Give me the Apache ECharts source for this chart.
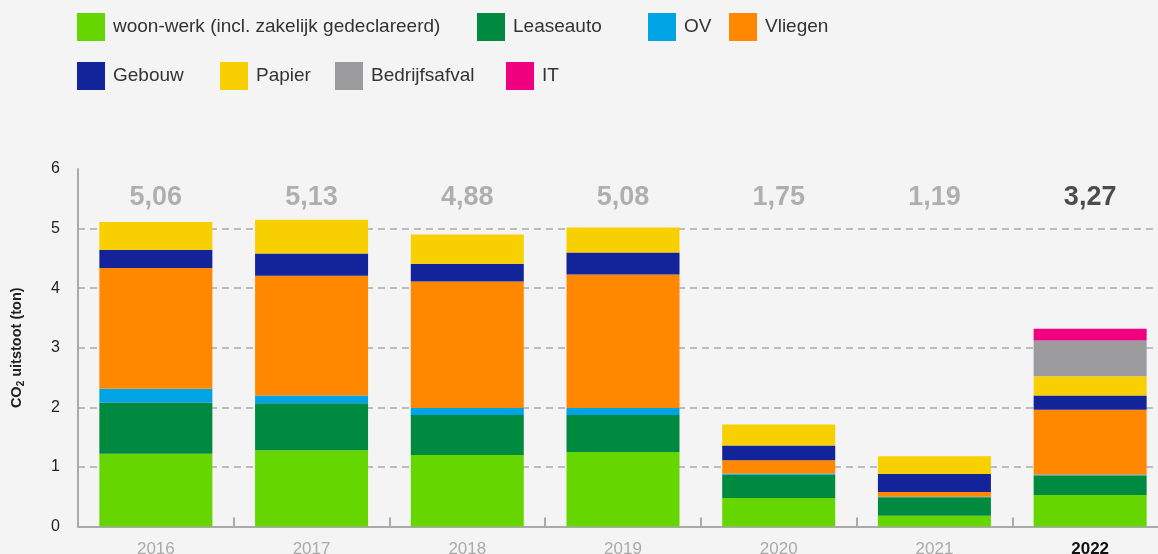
<!DOCTYPE html>
<html><head><meta charset="utf-8">
<script src="https://cdn.jsdelivr.net/npm/echarts@6/dist/echarts.min.js"></script>
<style>html,body{margin:0;padding:0;background:#f4f4f4}#c{width:1158px;height:554px}</style>
</head><body><div id="c"></div>
<script>
const years = ['2016','2017','2018','2019','2020','2021','2022'];
const totals = ['5,06','5,13','4,88','5,08','1,75','1,19','3,27'];
const yTicks = [0,1,2,3,4,5,6];
const woonwerk = [1.22, 1.28, 1.20, 1.25, 0.48, 0.18, 0.53];
const leaseauto = [0.86, 0.79, 0.67, 0.62, 0.39, 0.31, 0.32];
const ov = [0.23, 0.13, 0.12, 0.12, 0.02, 0.01, 0.02];
const vliegen = [2.03, 2.01, 2.12, 2.24, 0.22, 0.08, 1.09];
const gebouw = [0.30, 0.37, 0.30, 0.37, 0.25, 0.30, 0.24];
const papier = [0.47, 0.57, 0.49, 0.42, 0.35, 0.30, 0.32];
const bedrijfsafval = [null, null, null, null, null, null, 0.60];
const it = [null, null, null, null, null, null, 0.20];
const totalsLabelLevel = 5.52;

const FONT = '"Liberation Sans", Arial, sans-serif';
const seriesDefs = [
  ['woon-werk (incl. zakelijk gedeclareerd)', woonwerk, '#66D600', 77, 13],
  ['Leaseauto', leaseauto, '#008A3F', 477, 13],
  ['OV', ov, '#00A3E4', 648, 13],
  ['Vliegen', vliegen, '#FF8800', 729, 13],
  ['Gebouw', gebouw, '#13239A', 77, 62],
  ['Papier', papier, '#F8CF00', 220, 62],
  ['Bedrijfsafval', bedrijfsafval, '#9C9C9E', 335, 62],
  ['IT', it, '#F0007F', 506, 62]
];

const legends = seriesDefs.map(d => ({
  data: [d[0]], left: d[3], top: d[4], padding: 0,
  itemWidth: 28, itemHeight: 28, icon: 'rect', selectedMode: false,
  itemStyle: {borderWidth: 0},
  textStyle: {fontFamily: FONT, fontSize: 19, color: '#333', padding: [2,0,0,3]}
}));

const series = seriesDefs.map(d => ({
  name: d[0], type: 'bar', stack: 'co2', data: d[1], barWidth: 113,
  itemStyle: {color: d[2]}, emphasis: {disabled: true}
}));

series.push({
  type: 'scatter', symbolSize: 0, silent: true,
  data: totals.map((t, i) => ({
    value: totalsLabelLevel,
    label: {show: true, position: 'inside', formatter: t,
      fontFamily: FONT, fontSize: 27, fontWeight: 'bold',
      color: i === years.length - 1 ? '#222' : '#9d9d9d'}
  }))
});

const chart = echarts.init(document.getElementById('c'), null, {renderer: 'canvas'});
chart.setOption({
  backgroundColor: '#f4f4f4',
  animation: false,
  legend: legends,
  grid: {left: 78, right: -10, top: 169, bottom: 27.5, containLabel: false, outerBoundsMode: 'none'},
  xAxis: {
    type: 'category', data: years,
    axisLine: {lineStyle: {color: '#aaa', width: 2}},
    axisTick: {show: true, inside: true, length: 9, lineStyle: {color: '#aaa', width: 2}},
    axisLabel: {
      margin: 14, fontFamily: FONT, fontSize: 17,
      formatter: (v) => v === years[years.length - 1] ? '{b|' + v + '}' : '{n|' + v + '}',
      rich: {
        n: {fontFamily: FONT, fontSize: 17, color: '#aaa'},
        b: {fontFamily: FONT, fontSize: 17, color: '#111', fontWeight: 'bold'}
      }
    }
  },
  yAxis: {
    type: 'value', min: yTicks[0], max: yTicks[yTicks.length - 1], interval: 1,
    name: 'CO{s|2} uitstoot (ton)', nameLocation: 'middle', nameGap: 52, nameRotate: 90,
    nameTextStyle: {fontFamily: FONT, fontSize: 14.5, fontWeight: 'bold', color: '#222',
      rich: {s: {fontFamily: FONT, fontSize: 10, fontWeight: 'bold', color: '#222', verticalAlign: 'bottom', padding: [8,0,0,0]}}},
    axisLine: {show: true, lineStyle: {color: '#aaa', width: 2}},
    axisTick: {show: false},
    axisLabel: {margin: 18, fontFamily: FONT, fontSize: 16, color: '#222', padding: [0,0,8,0]},
    splitLine: {show: true, showMinLine: false, showMaxLine: false,
      lineStyle: {color: '#aaa', width: 1.5, type: [7, 5]}}
  },
  series: series
});
</script>
</body></html>
